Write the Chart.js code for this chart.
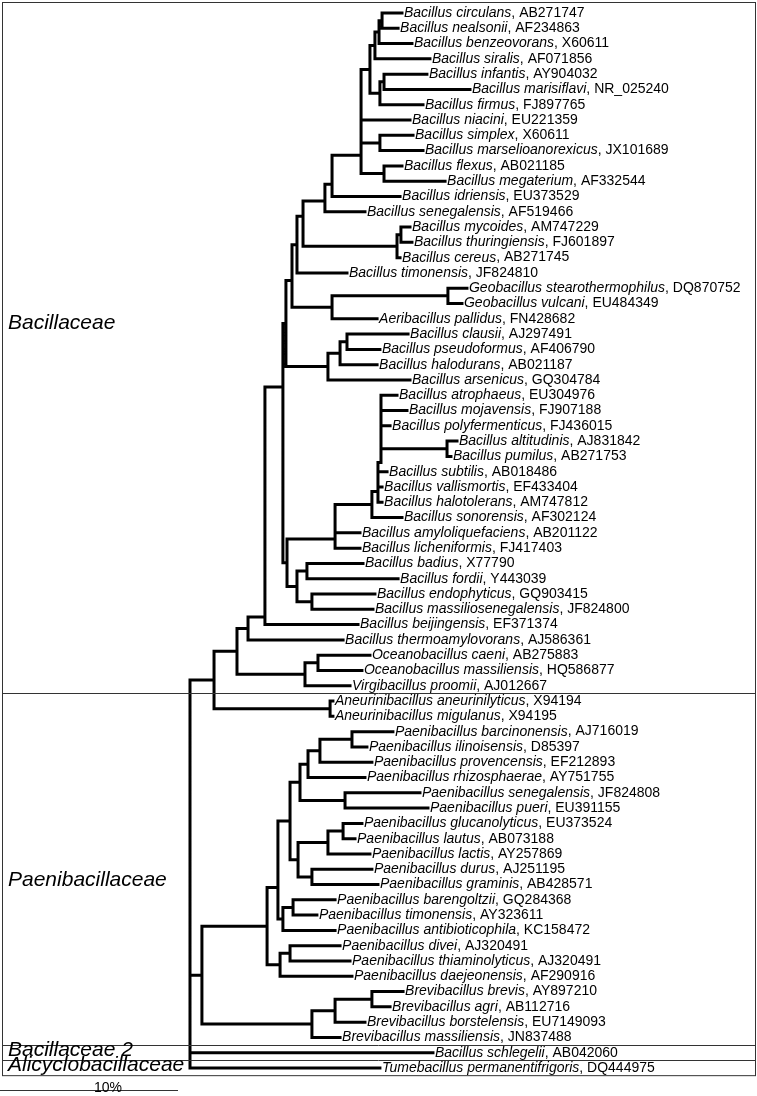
<!DOCTYPE html>
<html lang="en">
<head>
<meta charset="UTF-8" />
<title>Bacillales 16S rRNA tree</title>
<script src="https://cdn.jsdelivr.net/npm/chart.js"></script>
<style>
  body { margin: 0; background: #fff; }
  #wrap { position: relative; width: 757px; height: 1096px; }
</style>
</head>
<body>
<div id="wrap"><canvas id="tree"></canvas></div>
<script>
  // leaves, top to bottom
  const taxa = [
    'Bacillus circulans', 'Bacillus nealsonii', 'Bacillus benzeovorans', 'Bacillus siralis',
    'Bacillus infantis', 'Bacillus marisiflavi', 'Bacillus firmus', 'Bacillus niacini',
    'Bacillus simplex', 'Bacillus marselioanorexicus', 'Bacillus flexus', 'Bacillus megaterium',
    'Bacillus idriensis', 'Bacillus senegalensis', 'Bacillus mycoides', 'Bacillus thuringiensis',
    'Bacillus cereus', 'Bacillus timonensis', 'Geobacillus stearothermophilus', 'Geobacillus vulcani',
    'Aeribacillus pallidus', 'Bacillus clausii', 'Bacillus pseudoformus', 'Bacillus halodurans',
    'Bacillus arsenicus', 'Bacillus atrophaeus', 'Bacillus mojavensis', 'Bacillus polyfermenticus',
    'Bacillus altitudinis', 'Bacillus pumilus', 'Bacillus subtilis', 'Bacillus vallismortis',
    'Bacillus halotolerans', 'Bacillus sonorensis', 'Bacillus amyloliquefaciens', 'Bacillus licheniformis',
    'Bacillus badius', 'Bacillus fordii', 'Bacillus endophyticus', 'Bacillus massiliosenegalensis',
    'Bacillus beijingensis', 'Bacillus thermoamylovorans', 'Oceanobacillus caeni', 'Oceanobacillus massiliensis',
    'Virgibacillus proomii', 'Aneurinibacillus aneurinilyticus', 'Aneurinibacillus migulanus',
    'Paenibacillus barcinonensis', 'Paenibacillus ilinoisensis', 'Paenibacillus provencensis',
    'Paenibacillus rhizosphaerae', 'Paenibacillus senegalensis', 'Paenibacillus pueri',
    'Paenibacillus glucanolyticus', 'Paenibacillus lautus', 'Paenibacillus lactis', 'Paenibacillus durus',
    'Paenibacillus graminis', 'Paenibacillus barengoltzii', 'Paenibacillus timonensis',
    'Paenibacillus antibioticophila', 'Paenibacillus divei', 'Paenibacillus thiaminolyticus',
    'Paenibacillus daejeonensis', 'Brevibacillus brevis', 'Brevibacillus agri', 'Brevibacillus borstelensis',
    'Brevibacillus massiliensis', 'Bacillus schlegelii', 'Tumebacillus permanentifrigoris'
  ];
  const accessions = [
    'AB271747', 'AF234863', 'X60611', 'AF071856', 'AY904032', 'NR_025240', 'FJ897765', 'EU221359',
    'X60611', 'JX101689', 'AB021185', 'AF332544', 'EU373529', 'AF519466', 'AM747229', 'FJ601897',
    'AB271745', 'JF824810', 'DQ870752', 'EU484349', 'FN428682', 'AJ297491', 'AF406790', 'AB021187',
    'GQ304784', 'EU304976', 'FJ907188', 'FJ436015', 'AJ831842', 'AB271753', 'AB018486', 'EF433404',
    'AM747812', 'AF302124', 'AB201122', 'FJ417403', 'X77790', 'Y443039', 'GQ903415', 'JF824800',
    'EF371374', 'AJ586361', 'AB275883', 'HQ586877', 'AJ012667', 'X94194', 'X94195',
    'AJ716019', 'D85397', 'EF212893', 'AY751755', 'JF824808', 'EU391155', 'EU373524', 'AB073188',
    'AY257869', 'AJ251195', 'AB428571', 'GQ284368', 'AY323611', 'KC158472', 'AJ320491', 'AJ320491',
    'AF290916', 'AY897210', 'AB112716', 'EU7149093', 'JN837488', 'AB042060', 'DQ444975'
  ];
  // distance of each leaf from the root, in %
  const tipDepth = [
    11.91, 11.69, 12.47, 13.48, 13.31, 15.73, 13.09, 12.36, 12.53, 13.09,
    11.91, 14.33, 11.80, 9.83, 12.36, 12.47, 11.80, 8.82, 15.56, 15.28,
    10.51, 12.25, 10.67, 10.51, 12.36, 11.63, 12.19, 11.24, 15.00, 14.66,
    11.07, 10.79, 10.79, 11.91, 9.55, 9.55, 9.72, 11.69, 10.39, 10.28,
    9.44, 8.60, 10.11, 9.66, 8.99, 8.03, 8.03, 11.40, 9.94, 10.22,
    9.83, 12.92, 13.37, 9.66, 9.27, 10.11, 10.22, 10.56, 8.15, 7.13,
    8.15, 8.43, 8.99, 9.10, 11.97, 11.24, 9.83, 8.43, 13.65, 10.67
  ];
  // internal nodes: children (number = leaf, 'cN' = clade N), depth in %
  const cladeChildren = [
    [0, 1], ['c0', 2], ['c1', 3], [4, 5], ['c3', 6], ['c2', 'c4'], [8, 9], [10, 11],
    ['c5', 7, 'c6', 'c7'], ['c8', 12], ['c9', 13], [14, 15], ['c11', 16], ['c10', 'c12'],
    ['c13', 17], [18, 19], ['c15', 20], ['c14', 'c16'], [21, 22], ['c18', 23], ['c19', 24],
    ['c17', 'c20'], [28, 29], [25, 26, 27, 'c22'], ['c23', 30, 31, 32], ['c24', 33],
    ['c25', 34, 35], [36, 37], [38, 39], ['c27', 'c28'], ['c26', 'c29'], ['c21', 'c30'],
    ['c31', 40], ['c32', 41], [42, 43], ['c34', 44], ['c33', 'c35'], [45, 46], ['c36', 'c37'],
    [47, 48], ['c39', 49], ['c40', 50], [51, 52], ['c41', 'c42'], [53, 54], ['c44', 55],
    [56, 57], ['c45', 'c46'], ['c43', 'c47'], [58, 59], ['c49', 60], ['c48', 'c50'],
    [61, 62], ['c52', 63], ['c51', 'c53'], [64, 65], ['c55', 66], ['c56', 67],
    ['c54', 'c57'], ['c38', 'c58', 68, 69]
  ];
  const cladeDepth = [
    10.79, 10.62, 10.39, 10.90, 10.67, 10.11, 10.67, 10.90,
    9.61, 7.98, 7.58, 11.85, 11.63, 6.35,
    6.01, 14.49, 7.98, 5.73, 8.82, 8.43, 7.75,
    5.39, 14.44, 10.73, 10.56, 10.22,
    8.15, 6.57, 6.85, 6.01, 5.45, 5.22,
    4.21, 3.26, 7.19, 6.46, 2.64, 7.87, 1.35,
    9.10, 7.30, 6.63, 8.71, 6.18, 8.60, 7.75,
    6.85, 6.07, 5.62, 5.79, 5.22, 4.94,
    5.62, 5.06, 4.33, 10.22, 8.15, 6.85,
    0.67, 0
  ];
  // row where the stem of a clade joins, null = middle of its children
  const cladeRow = [
    null, null, null, null, null, null, null, null,
    9.3, 11.2, 12.3, null, null, 13.3,
    null, null, null, 17.5, null, null, null,
    null, null, 29.4, 31.3, null,
    34.4, null, null, null, null, 24.46,
    39.5, null, null, null, null, null, null,
    null, null, null, null, null, null, null,
    null, null, null, null, null, 57.2,
    null, null, null, null, null, null,
    null, null
  ];
  const families = ['Bacillaceae', 'Paenibacillaceae', 'Bacillaceae 2', 'Alicyclobacillaceae'];
  const familyLastLeaf = [44, 67, 68, 69];
  const familyLabelRow = [20.3, 56.7, 67.8, 68.8];
  const scaleBarPct = 10;
  const scaleBarLabel = '10%';

  // node positions
  const isClade = ref => typeof ref === 'string';
  const cladeY = [];
  function yOf(ref) {
    if (!isClade(ref)) return ref;
    const k = Number(ref.slice(1));
    if (cladeY[k] === undefined) {
      const ys = cladeChildren[k].map(yOf);
      cladeY[k] = cladeRow[k] !== null ? cladeRow[k] : (Math.min(...ys) + Math.max(...ys)) / 2;
    }
    return cladeY[k];
  }
  const depthOf = ref => isClade(ref) ? cladeDepth[Number(ref.slice(1))] : tipDepth[ref];

  const branches = [];
  cladeChildren.forEach((kids, k) => {
    const x = cladeDepth[k];
    const ys = kids.map(yOf).concat(yOf('c' + k));
    branches.push({ x: x, y: Math.min(...ys) }, { x: x, y: Math.max(...ys) }, { x: x, y: null });
    kids.forEach(c => {
      branches.push({ x: x, y: yOf(c) }, { x: depthOf(c), y: yOf(c) }, { x: depthOf(c), y: null });
    });
  });

  const labelPlugin = {
    id: 'treeLabels',
    afterDatasetsDraw(chart) {
      const ctx = chart.ctx;
      const xs = chart.scales.x, ys = chart.scales.y;
      const W = chart.width;
      ctx.save();

      // family boxes
      ctx.strokeStyle = '#333';
      ctx.lineWidth = 1;
      const top = 2.5;
      const bottom = ys.getPixelForValue(familyLastLeaf[familyLastLeaf.length - 1] + 0.5);
      ctx.strokeRect(2.5, top, W - 4, bottom - top);
      ctx.beginPath();
      familyLastLeaf.slice(0, -1).forEach(r => {
        const y = Math.round(ys.getPixelForValue(r + 0.5)) + 0.5;
        ctx.moveTo(2, y);
        ctx.lineTo(W - 2, y);
      });
      ctx.stroke();

      ctx.fillStyle = '#000';
      ctx.textBaseline = 'middle';
      ctx.font = 'italic 21px "Liberation Sans", Arial, sans-serif';
      families.forEach((f, i) => {
        ctx.fillText(f, 8, ys.getPixelForValue(familyLabelRow[i]));
      });

      // leaf labels
      taxa.forEach((name, i) => {
        const x = xs.getPixelForValue(tipDepth[i]) + 2;
        const y = ys.getPixelForValue(i);
        ctx.font = 'italic 14px "Liberation Sans", Arial, sans-serif';
        ctx.fillText(name, x, y);
        const w = ctx.measureText(name).width;
        ctx.font = '14px "Liberation Sans", Arial, sans-serif';
        ctx.fillText(', ' + accessions[i], x + w, y);
      });

      // scale bar
      const x0 = xs.getPixelForValue(xs.min);
      const x1 = xs.getPixelForValue(xs.min + scaleBarPct);
      const yb = 1090.5;
      ctx.beginPath();
      ctx.moveTo(x0, yb);
      ctx.lineTo(x1, yb);
      ctx.stroke();
      ctx.font = '14px "Liberation Sans", Arial, sans-serif';
      ctx.textAlign = 'center';
      ctx.textBaseline = 'alphabetic';
      ctx.fillText(scaleBarLabel, 108, 1092);
      ctx.restore();
    }
  };

  new Chart(document.getElementById('tree'), {
    type: 'line',
    data: {
      datasets: [{
        label: 'branches',
        data: branches,
        borderColor: '#000',
        borderWidth: 3,
        borderCapStyle: 'square',
        borderJoinStyle: 'miter',
        pointRadius: 0,
        tension: 0,
        spanGaps: false
      }]
    },
    options: {
      responsive: true,
      maintainAspectRatio: false,
      animation: false,
      layout: { padding: 0 },
      plugins: { legend: { display: false }, tooltip: { enabled: false } },
      scales: {
        x: { type: 'linear', display: false, min: -10.674, max: 31.854 },
        y: { type: 'linear', display: false, reverse: true, min: -0.85, max: 70.83 }
      }
    },
    plugins: [labelPlugin]
  });
</script>
</body>
</html>
